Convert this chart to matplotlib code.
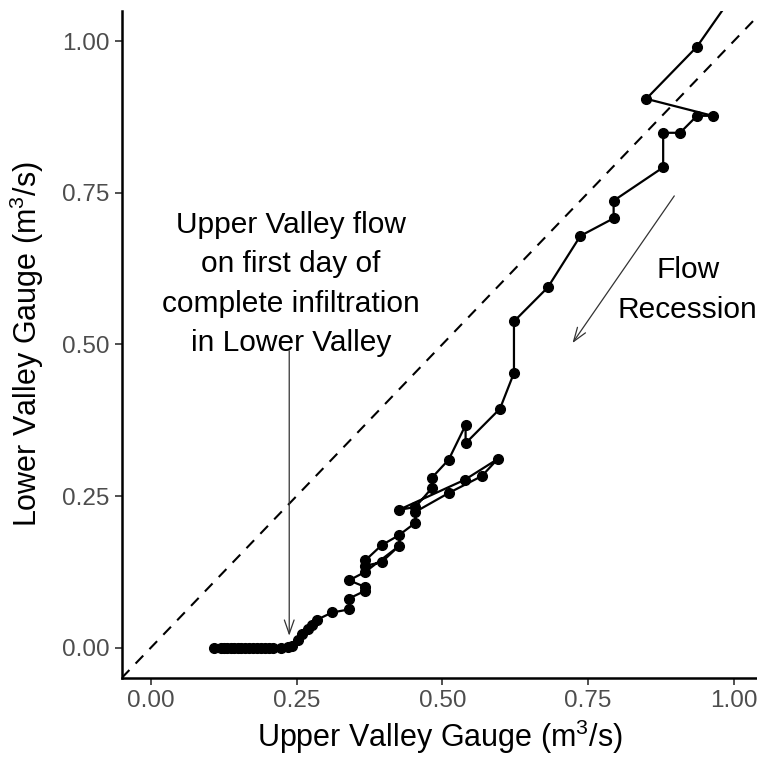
import matplotlib
matplotlib.use("Agg")
import matplotlib.pyplot as plt

plt.rcParams['font.family'] = ['Liberation Sans', 'DejaVu Sans']
plt.rcParams['mathtext.default'] = 'regular'

# flow pairs in time order (upper gauge, lower gauge), m3/s
upper_flow = [1.02, 0.937, 0.850, 0.964, 0.937, 0.908, 0.879, 0.879, 0.794, 0.794,
              0.737, 0.681, 0.623, 0.623, 0.599, 0.540, 0.540, 0.511, 0.482, 0.482,
              0.454, 0.425, 0.539, 0.595, 0.568, 0.511, 0.454, 0.454, 0.425, 0.396,
              0.368, 0.368, 0.396, 0.425, 0.368, 0.340, 0.368, 0.368, 0.340, 0.340,
              0.311, 0.285, 0.276, 0.269, 0.260, 0.252, 0.243, 0.236, 0.223, 0.209,
              0.203, 0.196, 0.189, 0.182, 0.175, 0.168, 0.161, 0.155, 0.149, 0.143,
              0.137, 0.131, 0.126, 0.120, 0.109]
lower_flow = [1.105, 0.991, 0.905, 0.877, 0.877, 0.849, 0.849, 0.792, 0.737, 0.708,
              0.679, 0.594, 0.538, 0.453, 0.394, 0.337, 0.367, 0.310, 0.280, 0.263,
              0.232, 0.227, 0.277, 0.311, 0.283, 0.255, 0.224, 0.206, 0.185, 0.169,
              0.144, 0.135, 0.141, 0.167, 0.125, 0.111, 0.100, 0.094, 0.081, 0.063,
              0.058, 0.046, 0.038, 0.031, 0.022, 0.012, 0.003, 0.001, 0.0, 0.0,
              0.0, 0.0, 0.0, 0.0, 0.0, 0.0, 0.0, 0.0, 0.0, 0.0,
              0.0, 0.0, 0.0, 0.0, 0.0]

ticks = [0.00, 0.25, 0.50, 0.75, 1.00]
tick_labels = ['0.00', '0.25', '0.50', '0.75', '1.00']

first_day_x = 0.2374
note_text = "Upper Valley flow\non first day of\ncomplete infiltration\nin Lower Valley"

fig = plt.figure(figsize=(7.57, 7.57), dpi=100)
ax = fig.add_axes([0.1608, 0.1044, 0.8469, 0.8812])

ax.plot([-0.05, 1.05], [-0.05, 1.05], color='black', lw=1.5, linestyle=(0, (5.3, 4.3)))
ax.plot(upper_flow, lower_flow, color='black', lw=1.6, marker='o', markersize=7)

ax.annotate('', xy=(first_day_x, 0.015), xytext=(first_day_x, 0.494),
            arrowprops=dict(arrowstyle='->,head_length=1.0,head_width=0.35',
                            color='#333333', lw=0.9))
ax.text(0.2402, 0.600, note_text, ha='center', va='center', fontsize=21.5,
        color='black', linespacing=1.52)

ax.annotate('', xy=(0.7207, 0.4985), xytext=(0.9008, 0.7487),
            arrowprops=dict(arrowstyle='->,head_length=1.0,head_width=0.35',
                            color='#333333', lw=0.9))
ax.text(0.921, 0.590, "Flow\nRecession", ha='center', va='center', fontsize=21.5,
        color='black', linespacing=1.52)

ax.set_xlim(-0.05, 1.05)
ax.set_ylim(-0.05, 1.05)
ax.set_xticks(ticks)
ax.set_xticklabels(tick_labels)
ax.set_yticks(ticks)
ax.set_yticklabels(tick_labels)

for side in ['top', 'right']:
    ax.spines[side].set_visible(False)
for side in ['left', 'bottom']:
    ax.spines[side].set_linewidth(1.8)
    ax.spines[side].set_color('black')

ax.tick_params(direction='out', length=5, width=1.2, color='#333333',
               labelsize=17.5, labelcolor='#4D4D4D', pad=4)

ax.set_xlabel('Upper Valley Gauge (m$^3$/s)', fontsize=22)
ax.set_ylabel('Lower Valley Gauge (m$^3$/s)', fontsize=22)
ax.xaxis.set_label_coords(0.497, -0.060)
ax.yaxis.set_label_coords(-0.118, 0.5)

fig.savefig('out.png', dpi=100)
